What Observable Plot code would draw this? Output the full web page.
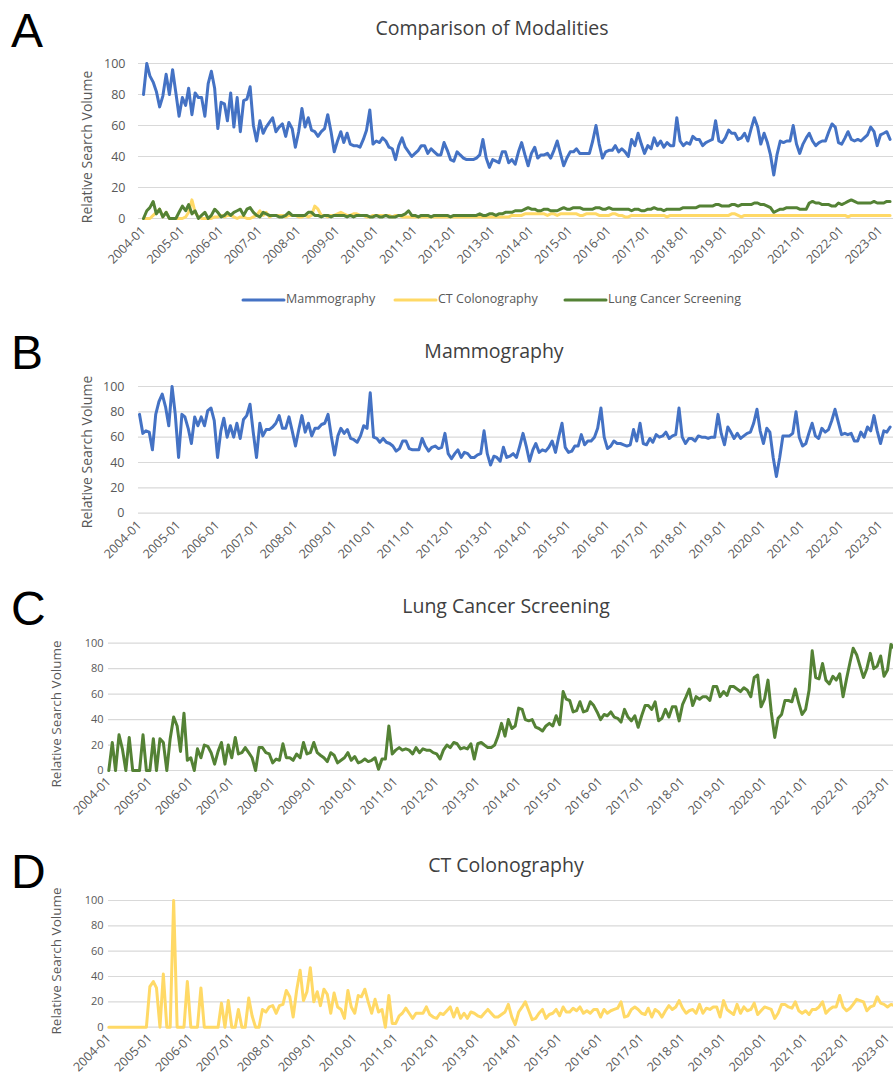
<!DOCTYPE html>
<html>
<head>
<meta charset="utf-8">
<script src="https://cdn.jsdelivr.net/npm/d3@7"></script>
<script src="https://cdn.jsdelivr.net/npm/@observablehq/plot@0.6"></script>
<style>
html,body{margin:0;padding:0;background:#fff;}
#root{position:relative;width:893px;height:1080px;overflow:hidden;background:#fff;}
.panel{position:absolute;left:0;}
.panel svg{overflow:visible;background:transparent;}
.small [aria-label^="x-axis"] text{font-size:12.5px;}
#overlay{position:absolute;left:0;top:0;pointer-events:none;}
</style>
</head>
<body>
<div id="root"></div>
<script>
// ---------- tick labels ----------
const tickLabels = ["2004-01","2005-01","2006-01","2007-01","2008-01","2009-01","2010-01","2011-01","2012-01","2013-01",
  "2014-01","2015-01","2016-01","2017-01","2018-01","2019-01","2020-01","2021-01","2022-01","2023-01"];
const yTicks = [0, 20, 40, 60, 80, 100];
const seriesNames = ["Mammography", "CT Colonography", "Lung Cancer Screening"];

// ---------- Panel A: comparison (monthly, 2004-01 .. 2023-04) ----------
const mammographyComp = [
  80,100,92,88,82,72,79,93,80,96,81,66,
  78,73,84,67,81,78,78,66,87,95,84,58,
  75,74,63,81,59,78,56,76,77,85,60,50,
  63,55,59,62,65,56,59,61,53,62,58,46,
  56,71,59,65,57,56,53,56,58,67,56,43,
  50,56,49,55,48,47,47,46,51,57,70,48,
  50,49,52,50,46,45,38,47,52,46,43,40,
  42,44,47,47,42,45,43,41,41,49,44,38,
  37,43,41,39,38,38,38,39,41,51,39,33,
  38,37,36,43,43,36,38,35,43,49,41,34,
  42,46,39,41,41,42,39,44,50,42,34,39,
  43,43,45,42,42,42,42,50,60,48,39,43,
  44,44,47,43,45,43,40,51,47,55,48,42,
  47,45,52,47,50,46,49,47,47,65,50,47,
  49,48,53,51,51,47,49,50,51,63,50,49,
  52,57,55,55,51,52,55,50,58,65,59,48,
  55,49,41,28,41,50,49,50,50,60,48,42,
  48,52,55,50,47,49,50,50,56,61,59,49,
  48,52,56,51,50,51,50,52,54,59,56,47,
  54,55,56,51
];
const ctComp = [
  0,0,0,2,4,6,1,4,0,0,0,0,
  0,1,4,12,4,1,0,0,0,0,1,1,
  2,1,2,2,1,0,1,1,0,0,1,2,
  5,2,4,1,2,2,2,2,1,2,2,2,
  1,1,2,1,2,8,6,2,2,1,2,2,
  3,4,3,2,2,3,3,2,2,1,1,2,
  2,2,2,2,2,1,2,2,1,1,1,1,
  1,1,1,1,1,1,1,1,1,1,1,1,
  1,1,1,1,1,1,1,1,1,1,1,1,
  1,1,1,1,1,1,2,2,2,2,3,3,
  3,3,3,3,3,2,3,3,2,3,3,3,
  3,3,3,2,2,3,3,3,3,2,2,2,
  2,3,3,2,2,1,1,2,2,2,2,2,
  2,2,2,2,2,2,1,2,2,2,2,2,
  2,2,2,2,2,2,2,2,2,2,2,2,
  2,2,3,3,2,1,2,2,2,2,2,2,
  2,2,2,2,2,2,2,2,2,2,2,2,
  2,2,2,2,2,2,2,2,2,2,2,2,
  2,2,1,2,2,2,2,2,2,2,2,2,
  2,2,2,2
];
const lungComp = [
  0,5,7,11,3,6,1,4,0,0,0,4,
  8,5,9,3,5,0,2,4,0,2,6,4,
  1,2,4,2,4,5,6,2,6,7,4,2,
  1,4,3,2,2,2,1,1,2,4,2,2,
  2,2,2,4,4,2,2,1,2,2,1,2,
  2,2,2,1,2,1,2,2,2,2,1,1,
  2,1,1,2,1,1,1,2,2,3,5,2,
  2,1,2,2,2,1,2,2,2,2,2,1,
  2,2,2,2,2,2,2,2,3,2,2,3,
  3,2,3,3,4,4,4,5,5,5,6,7,
  6,6,5,5,6,6,5,5,5,6,7,6,
  6,7,7,7,6,6,6,6,7,7,6,6,
  7,6,6,6,6,6,6,5,6,6,5,5,
  6,6,7,6,6,5,6,6,6,6,6,7,
  7,7,7,7,8,8,8,8,8,9,9,8,
  8,8,9,9,8,9,9,9,9,10,10,9,
  9,8,7,4,5,6,6,7,7,7,7,6,
  6,6,10,11,10,10,9,9,9,8,8,10,
  9,10,11,12,11,10,10,10,10,10,11,10,
  10,10,11,11
];

// ---------- Panel B: Mammography alone ----------
const mammographyOnly = [
  78,63,65,64,50,78,88,94,84,69,100,78,
  44,78,76,67,55,76,69,76,69,81,83,73,
  44,65,75,60,69,60,71,59,74,77,86,64,
  44,71,61,66,66,68,71,77,67,67,76,65,
  53,66,77,64,71,61,67,67,70,71,78,61,
  46,61,67,63,66,59,58,56,61,69,67,95,
  60,59,56,59,56,55,53,49,51,57,57,51,
  50,50,50,59,53,49,52,53,51,52,63,47,
  43,47,50,44,48,47,44,44,46,47,65,47,
  38,45,44,41,52,44,45,47,44,53,63,53,
  41,50,55,48,50,49,52,57,48,60,71,52,
  48,49,53,53,62,54,57,57,60,67,83,60,
  51,53,57,55,55,54,53,54,66,57,71,55,
  54,59,56,62,60,61,64,59,61,62,83,60,
  55,59,59,57,61,60,60,59,60,60,78,63,
  54,68,64,59,63,59,61,63,64,71,82,65,
  55,67,64,44,29,44,61,61,61,63,80,60,
  53,55,63,71,61,59,67,64,66,73,82,72,
  62,63,62,63,57,57,64,60,68,65,77,65,
  55,65,64,68
];

// ---------- Panel C: Lung Cancer Screening alone ----------
const lungOnly = [
  0,22,0,28,17,0,26,0,0,0,28,0,
  0,25,0,25,22,0,25,42,35,15,45,8,
  10,0,17,10,20,19,14,5,15,22,5,20,
  10,26,13,14,18,14,10,0,18,18,14,13,
  6,9,8,21,10,10,8,13,10,22,13,14,
  22,14,12,10,7,14,12,6,8,10,14,8,
  11,6,7,9,7,8,10,1,9,9,35,13,
  16,18,16,17,16,13,18,14,17,16,16,14,
  13,9,16,20,18,22,21,17,18,17,21,9,
  21,22,20,18,18,20,27,37,27,40,33,35,
  49,48,40,39,40,34,33,31,35,37,35,43,
  36,62,56,55,46,47,54,46,47,54,51,46,
  40,44,43,46,42,41,38,48,42,39,43,34,
  43,51,51,48,54,39,41,48,42,50,50,39,
  52,58,64,51,58,56,58,58,55,66,66,58,
  62,59,66,66,64,62,65,63,58,73,75,50,
  56,71,46,26,41,44,55,55,54,64,53,44,
  48,63,94,73,72,84,71,68,74,71,76,58,
  72,85,96,91,82,73,80,92,80,82,90,74,
  79,99,96,95
];

// ---------- Panel D: CT Colonography alone ----------
const ctOnly = [
  0,0,0,0,0,0,0,0,0,0,0,0,
  32,36,31,0,42,0,0,100,0,0,0,36,
  0,0,0,31,0,0,0,0,0,19,0,21,
  0,0,14,0,0,23,9,0,0,14,12,16,
  17,11,17,18,29,24,8,29,45,21,28,47,
  20,28,17,30,26,11,27,16,14,7,29,16,
  11,25,24,30,20,11,22,12,14,0,25,3,
  3,9,11,15,11,7,11,11,11,16,10,8,
  7,11,10,13,16,8,15,7,11,7,12,11,
  9,8,11,14,11,8,8,10,12,18,8,2,
  12,16,20,13,6,7,11,14,7,10,11,14,
  9,16,12,12,15,13,16,11,13,11,14,14,
  8,14,11,13,14,15,20,8,9,14,16,14,
  11,10,15,8,14,12,8,13,17,14,16,21,
  15,11,13,14,11,18,11,15,14,16,16,8,
  21,14,12,10,18,11,16,13,14,19,10,13,
  16,15,14,7,11,18,18,16,15,20,13,11,
  13,10,14,14,16,20,11,14,16,16,25,16,
  13,15,18,22,21,20,13,16,17,24,19,18,
  16,18,17,18
];

// ---------- helpers ----------
const COLORS = {blue: "#4472c4", gold: "#ffd966", green: "#548235"};
const FONT = "'Open Sans', 'Liberation Sans', Arial, sans-serif";
const start = new Date(Date.UTC(2004, 0, 1));
const toSeries = (vals) => vals.map((v, i) => ({date: d3.utcMonth.offset(start, i), value: v}));
const parseTick = d3.utcParse("%Y-%m");
const tickDates = tickLabels.map(parseTick);
const labelOf = new Map(tickDates.map((d, i) => [+d, tickLabels[i]]));

const W = 893;
const root = document.getElementById("root");

function panel(cfg) {
  const t0 = +tickDates[0], t1 = +tickDates[tickDates.length - 1];
  const k = (t1 - t0) / (cfg.px23 - cfg.px04);
  const domain = [new Date(t0 - (cfg.px04 - cfg.left) * k), new Date(t0 + (W - cfg.px04) * k)];
  const marks = [
    Plot.ruleY(yTicks, {stroke: "#d9d9d9", strokeWidth: 1.2})
  ];
  for (const s of cfg.series) {
    marks.push(Plot.line(toSeries(s.values), {x: "date", y: "value", stroke: s.color, strokeWidth: cfg.lw, strokeLinejoin: "round", strokeLinecap: "round"}));
  }
  const svg = Plot.plot({
    width: W,
    height: cfg.height,
    marginTop: cfg.marginTop,
    marginBottom: cfg.marginBottom,
    marginLeft: cfg.left,
    marginRight: 0,
    style: {fontFamily: FONT, fontSize: cfg.fs + "px", color: "#595959", background: "transparent", overflow: "visible"},
    x: {type: "utc", domain, ticks: tickDates, tickFormat: d => labelOf.get(+d), tickRotate: -45, tickSize: 0, tickPadding: cfg.xPad, label: null},
    y: {domain: [0, 100], ticks: yTicks, tickSize: 0, tickPadding: cfg.yPad, label: null, tickFormat: d3.format("d")},
    marks
  });
  const div = document.createElement("div");
  div.className = "panel" + (cfg.small ? " small" : "");
  div.style.top = cfg.top + "px";
  div.appendChild(svg);
  root.appendChild(div);
}

panel({top: 0, height: 283, marginTop: 63, marginBottom: 65, left: 138, px04: 143, px23: 880, fs: 12.5, xPad: 10, yPad: 13, lw: 3,
  series: [{values: mammographyComp, color: COLORS.blue}, {values: ctComp, color: COLORS.gold}, {values: lungComp, color: COLORS.green}]});
panel({top: 320, height: 255, marginTop: 66, marginBottom: 62.3, left: 138, px04: 139, px23: 880, fs: 12.5, xPad: 10, yPad: 14, lw: 3,
  series: [{values: mammographyOnly, color: COLORS.blue}]});
panel({top: 600, height: 230, marginTop: 42.7, marginBottom: 60, left: 108, px04: 108.3, px23: 887, fs: 11, xPad: 9, yPad: 5, lw: 3, small: true,
  series: [{values: lungOnly, color: COLORS.green}]});
panel({top: 860, height: 220, marginTop: 40, marginBottom: 53.3, left: 108, px04: 108.3, px23: 887, fs: 11, xPad: 9, yPad: 5, lw: 3, small: true,
  series: [{values: ctOnly, color: COLORS.gold}]});

// ---------- overlay text: panel letters, titles, axis labels, legend ----------
const ov = d3.select(root).append("svg").attr("id", "overlay").attr("width", W).attr("height", 1080);
const letters = [["A", 47], ["B", 369], ["C", 625], ["D", 888]];
for (const [l, y] of letters) {
  ov.append("text").attr("x", 11).attr("y", y).attr("font-family", "'Liberation Sans', Arial, sans-serif")
    .attr("font-size", 48).attr("fill", "#000").text(l);
}
const titles = [["Comparison of Modalities", 492, 35], ["Mammography", 494, 358], ["Lung Cancer Screening", 506, 613], ["CT Colonography", 506, 872]];
for (const [t, x, y] of titles) {
  ov.append("text").attr("x", x).attr("y", y).attr("text-anchor", "middle").attr("font-family", FONT)
    .attr("font-size", 19.5).attr("fill", "#404040").text(t);
}
const yLabels = [[88, 147, 14], [88, 452, 14], [57, 714, 13.5], [57, 961, 13.5]];
for (const [x, y, fs] of yLabels) {
  ov.append("text").attr("transform", `translate(${x},${y}) rotate(-90)`).attr("text-anchor", "middle")
    .attr("dominant-baseline", "middle").attr("font-family", FONT).attr("font-size", fs).attr("fill", "#595959")
    .text("Relative Search Volume");
}
const legend = [[seriesNames[0], COLORS.blue, 243], [seriesNames[1], COLORS.gold, 395], [seriesNames[2], COLORS.green, 565]];
for (const [name, color, x] of legend) {
  ov.append("line").attr("x1", x).attr("x2", x + 41).attr("y1", 300).attr("y2", 300)
    .attr("stroke", color).attr("stroke-width", 3).attr("stroke-linecap", "round");
  ov.append("text").attr("x", x + 43).attr("y", 300).attr("dominant-baseline", "middle").attr("font-family", FONT)
    .attr("font-size", 12.5).attr("fill", "#595959").text(name);
}
</script>
</body>
</html>
